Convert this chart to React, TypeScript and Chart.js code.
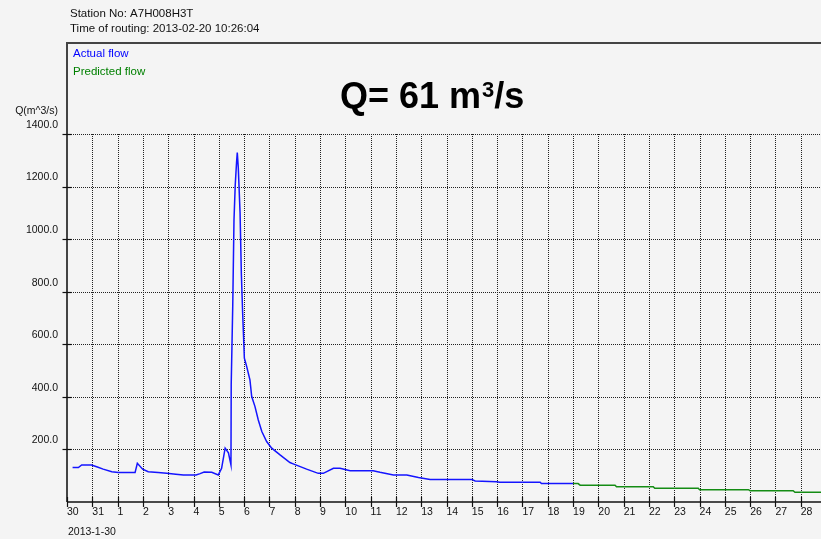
import React, { useEffect, useRef } from 'react';
import { Chart, registerables } from 'chart.js';

Chart.register(...registerables);

// ---- Data ----
const stationNo = 'A7H008H3T';
const routingTime = '2013-02-20 10:26:04';
const startDateLabel = '2013-1-30';
const yAxisTitle = 'Q(m^3/s)';
const currentFlow = 61;
const actualLabel = 'Actual flow';
const predictedLabel = 'Predicted flow';

// days counted from 2013-01-30
const xTickDays = [0, 1, 2, 3, 4, 5, 6, 7, 8, 9, 10, 11, 12, 13, 14, 15, 16, 17, 18, 19, 20, 21, 22, 23, 24, 25, 26, 27, 28, 29];
const xTickLabels = ['30', '31', '1', '2', '3', '4', '5', '6', '7', '8', '9', '10', '11', '12', '13', '14', '15', '16', '17', '18', '19', '20', '21', '22', '23', '24', '25', '26', '27', '28'];
const yTickValues = [200, 400, 600, 800, 1000, 1200, 1400];

const actualDays = [
  0.22, 0.45, 0.58, 0.97, 1.2, 1.43, 1.77, 2.03, 2.69, 2.78, 2.99, 3.21, 3.6, 3.94, 4.3, 4.6, 5.1, 5.26, 5.42, 5.72,
  5.98, 6.11, 6.25, 6.38, 6.48, 6.49, 6.55, 6.6, 6.65, 6.7, 6.73, 6.77, 6.84, 6.89, 6.94, 6.97, 7.01, 7.1, 7.23, 7.3,
  7.43, 7.56, 7.7, 7.89, 8.09, 8.42, 8.81, 8.94, 9.47, 9.93, 10.13, 10.53, 10.79, 11.19, 12.1, 12.37, 12.9, 13.43, 13.89, 14.35,
  16.0, 16.13, 16.98, 17.1, 18.7, 18.75, 20.0,
];
const actualFlow = [
  131, 131, 141, 141, 133, 125, 115, 112, 112, 147, 125, 115, 112, 109, 106, 103, 103, 108, 114, 113,
  103, 128, 205, 187, 141, 446, 744, 1074, 1208, 1290, 1329, 1271, 1100, 871, 725, 649, 547, 516, 465, 401,
  363, 312, 268, 230, 205, 179, 150, 145, 125, 109, 109, 128, 128, 119, 119, 113, 103, 103, 93, 86,
  86, 80, 77, 75, 75, 70, 70,
];

const predictedDays = [20.0, 20.2, 20.28, 21.66, 21.72, 23.17, 23.23, 24.95, 25.0, 26.93, 27.0, 28.7, 28.77, 29.8];
const predictedFlow = [70, 70, 64, 64, 58, 58, 52, 52, 47, 47, 43, 43, 37, 37];

// ---- Styling constants ----
const FONT = '"Liberation Sans", Arial, sans-serif';
const BG = '#f4f4f4';

const framePlugin = {
  id: 'hydroFrame',
  beforeDraw(chart: any) {
    const { ctx, width, height } = chart;
    ctx.save();
    ctx.fillStyle = BG;
    ctx.fillRect(0, 0, width, height);
    ctx.restore();
  },
  beforeDatasetsDraw(chart: any) {
    const { ctx, chartArea } = chart;
    const xs = chart.scales.x;
    const ys = chart.scales.y;
    ctx.save();
    ctx.setLineDash([1, 1]);
    ctx.lineWidth = 1;
    ctx.strokeStyle = '#222';
    const yTop = ys.getPixelForValue(yTickValues[yTickValues.length - 1]);
    for (const d of xTickDays) {
      if (d === 0) continue;
      const px = Math.round(xs.getPixelForValue(d)) + 0.5;
      ctx.beginPath();
      ctx.moveTo(px, yTop);
      ctx.lineTo(px, chartArea.bottom);
      ctx.stroke();
    }
    for (const v of yTickValues) {
      const py = Math.round(ys.getPixelForValue(v)) + 0.5;
      ctx.beginPath();
      ctx.moveTo(chartArea.left, py);
      ctx.lineTo(chartArea.right, py);
      ctx.stroke();
    }
    ctx.restore();
  },
  afterDatasetsDraw(chart: any) {
    const { ctx, chartArea } = chart;
    const xs = chart.scales.x;
    const ys = chart.scales.y;
    const left = chartArea.left;
    const bottom = chartArea.bottom;
    ctx.save();
    ctx.setLineDash([]);
    // outer frame (top + left)
    ctx.strokeStyle = '#444';
    ctx.lineWidth = 2;
    ctx.beginPath();
    ctx.moveTo(chartArea.right + 5, 43);
    ctx.lineTo(left, 43);
    ctx.lineTo(left, bottom);
    ctx.stroke();
    // x axis line
    ctx.strokeStyle = '#111';
    ctx.lineWidth = 1.5;
    ctx.beginPath();
    ctx.moveTo(left, bottom);
    ctx.lineTo(chartArea.right, bottom);
    ctx.stroke();
    // tick marks
    ctx.lineWidth = 1.2;
    for (const d of xTickDays) {
      const px = Math.round(xs.getPixelForValue(d)) + 0.5;
      ctx.beginPath();
      ctx.moveTo(px, bottom - 5);
      ctx.lineTo(px, bottom + 5);
      ctx.stroke();
    }
    for (const v of yTickValues) {
      const py = Math.round(ys.getPixelForValue(v)) + 0.5;
      ctx.beginPath();
      ctx.moveTo(left - 4.5, py);
      ctx.lineTo(left + 4.5, py);
      ctx.stroke();
    }
    // texts
    ctx.textBaseline = 'middle';
    ctx.textAlign = 'left';
    ctx.fillStyle = '#111';
    ctx.font = `11.5px ${FONT}`;
    ctx.fillText(`Station No: ${stationNo}`, 70, 14);
    ctx.fillText(`Time of routing: ${routingTime}`, 70, 29);
    ctx.fillStyle = 'rgb(0,0,255)';
    ctx.fillText(actualLabel, 73, 54);
    ctx.fillStyle = 'rgb(0,128,0)';
    ctx.fillText(predictedLabel, 73, 72);
    ctx.fillStyle = '#111';
    ctx.font = `10.5px ${FONT}`;
    ctx.textAlign = 'right';
    ctx.fillText(yAxisTitle, 58, 111);
    ctx.textAlign = 'left';
    ctx.fillText(startDateLabel, 68, 532);
    // big current-flow annotation: "Q= 61 m3/s" with superscript 3
    ctx.fillStyle = '#000';
    ctx.textBaseline = 'alphabetic';
    ctx.font = `bold 36px ${FONT}`;
    const main = `Q= ${currentFlow} m`;
    let cx = 340;
    ctx.fillText(main, cx, 108);
    cx += ctx.measureText(main).width + 1;
    ctx.font = `bold 22px ${FONT}`;
    ctx.fillText('3', cx, 97);
    cx += ctx.measureText('3').width;
    ctx.font = `bold 36px ${FONT}`;
    ctx.fillText('/s', cx, 108);
    ctx.restore();
  },
};

export default function App() {
  const canvasRef = useRef<HTMLCanvasElement | null>(null);

  useEffect(() => {
    const canvas = canvasRef.current;
    if (!canvas) return;
    const chart = new Chart(canvas, {
      type: 'line',
      data: {
        datasets: [
          {
            label: actualLabel,
            data: actualDays.map((d, i) => ({ x: d, y: actualFlow[i] })),
            borderColor: 'rgb(20,20,255)',
            borderWidth: 1.5,
            pointRadius: 0,
            tension: 0,
          },
          {
            label: predictedLabel,
            data: predictedDays.map((d, i) => ({ x: d, y: predictedFlow[i] })),
            borderColor: 'rgb(20,140,20)',
            borderWidth: 1.5,
            pointRadius: 0,
            tension: 0,
          },
        ],
      },
      options: {
        responsive: false,
        animation: false,
        events: [],
        devicePixelRatio: 1,
        layout: { padding: { top: 134, left: 0, right: 0, bottom: 0 } },
        plugins: {
          legend: { display: false },
          tooltip: { enabled: false },
          title: { display: false },
        },
        scales: {
          x: {
            type: 'linear',
            min: 0,
            max: 29.8,
            grid: { display: false, drawTicks: false },
            border: { display: false },
            afterBuildTicks: (s: any) => {
              s.ticks = xTickDays.map((v) => ({ value: v }));
            },
            afterFit: (s: any) => {
              s.height = 37;
            },
            ticks: {
              autoSkip: false,
              maxRotation: 0,
              minRotation: 0,
              align: 'start',
              padding: 4,
              color: '#111',
              font: { family: FONT, size: 10.5 },
              callback: (v: any) => {
                const i = xTickDays.indexOf(Number(v));
                return i >= 0 ? xTickLabels[i] : '';
              },
            },
          },
          y: {
            type: 'linear',
            min: 0,
            max: 1400,
            grid: { display: false, drawTicks: false },
            border: { display: false },
            afterBuildTicks: (s: any) => {
              s.ticks = yTickValues.map((v) => ({ value: v }));
            },
            afterFit: (s: any) => {
              s.width = 67;
            },
            ticks: {
              padding: 9,
              labelOffset: -9,
              color: '#111',
              font: { family: FONT, size: 10.5 },
              callback: (v: any) => Number(v).toFixed(1),
            },
          },
        },
      },
      plugins: [framePlugin],
    } as any);
    return () => chart.destroy();
  }, []);

  return (
    <canvas
      ref={canvasRef}
      width={821}
      height={539}
      style={{ position: 'fixed', left: 0, top: 0, width: 821, height: 539, display: 'block' }}
    />
  );
}
